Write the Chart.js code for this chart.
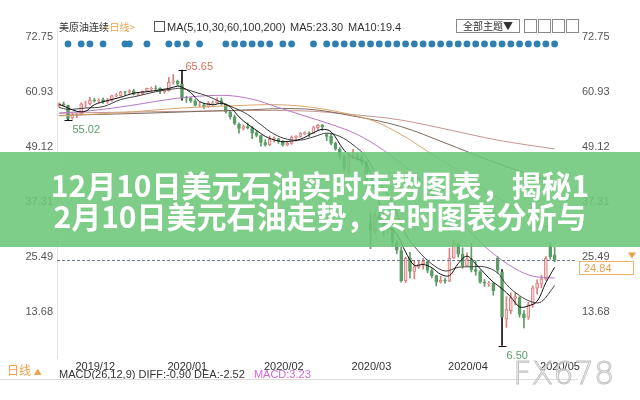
<!DOCTYPE html>
<html>
<head>
<meta charset="utf-8">
<script src="https://cdn.jsdelivr.net/npm/chart.js@4.4.1/dist/chart.umd.min.js"></script>
<style>
  body { margin: 0; background: #fff; }
  #box { position: relative; width: 640px; height: 400px; overflow: hidden; font-family: "Liberation Sans", Arial, sans-serif; }
  #c { position: absolute; left: 0; top: 0; }
  .t { position: absolute; white-space: nowrap; font-size: 11px; line-height: 13px; color: #333; }
  .cn { font-family: "Noto Sans CJK SC", sans-serif; }
  #banner { position: absolute; left: 0; top: 152px; width: 640px; height: 95px; box-sizing: border-box; padding-top: 17px;
            background: rgba(108, 198, 120, 0.88); color: #fff; text-align: center;
            font-family: "Noto Sans CJK SC", sans-serif; font-weight: 700; font-size: 30px; line-height: 31px; }
  .btn { position: absolute; top: 19px; height: 12px; border: 1px solid #888; background: #fff; }
  #wm { position: absolute; left: 513px; top: 354px; font-size: 32px; font-family: "DejaVu Sans", sans-serif; font-weight: 300;
        color: rgba(255,255,255,0.2); -webkit-text-stroke: 1px #c4c4c4; }
</style>
</head>
<body>
<div id="box">
  <canvas id="c" width="640" height="400"></canvas>

  <div class="t cn" style="left:59px;top:20px;font-size:10px;">美原油连续</div>
  <div class="t cn" style="left:104px;top:20px;font-size:10px;color:#f0a24a;">&lt;日线&gt;</div>
  <div class="t" style="left:154px;top:21px;width:9px;height:9px;border:1px solid #555;"></div>
  <div class="t" style="left:167px;top:21px;">MA(5,10,30,60,100,200)</div>
  <div class="t" style="left:290px;top:21px;">MA5:23.30</div>
  <div class="t" style="left:348px;top:21px;">MA10:19.4</div>
  <div class="btn t cn" style="left:456px;width:62px;font-size:10px;line-height:12px;text-align:center;">全部主题▼</div>
  <div class="btn" style="left:524px;width:11px;"></div>
  <div class="btn" style="left:538px;width:11px;"></div>
  <div class="btn" style="left:552px;width:11px;"></div>
  <div class="btn" style="left:566px;width:11px;"></div>

  <div id="banner">12月10日美元石油实时走势图表，揭秘1<br>2月10日美元石油走势，实时图表分析与</div>

  <div class="t cn" style="left:7px;top:363px;font-size:12px;color:#f0a24a;">日线 <span style="font-size:8px;">▲</span></div>
  <div class="t" style="left:59px;top:368px;">MACD(26,12,9) DIFF:-0.90 DEA:-2.52 <span style="color:#d36ad3;margin-left:6px;">MACD:3.23</span></div>
  <div style="position:absolute;left:0;top:379px;width:578px;height:1px;background:#dcdcdc;"></div>
  <div id="wm">FX678</div>
</div>

<script>
// 美原油连续 daily bars, late Nov 2019 - early May 2020
const opens = [58.0, 58.4, 58.0, 55.3, 56.0, 56.2, 58.3, 58.4, 59.2, 59.0,
  59.3, 58.8, 59.2, 60.1, 60.2, 61.0, 60.9, 61.2, 60.4, 60.5,
  61.1, 61.6, 61.8, 61.7, 61.0, 61.2, 63.1, 63.3, 62.7, 59.8,
  59.6, 59.0, 58.1, 58.2, 57.8, 58.4, 58.6, 59.1, 58.3, 56.7,
  55.6, 54.0, 53.1, 53.5, 53.3, 52.2, 51.6, 50.1, 49.6, 50.8,
  50.9, 50.3, 49.6, 49.9, 51.2, 51.4, 52.0, 52.1, 52.1, 53.3,
  53.8, 51.8, 51.4, 49.9, 48.7, 47.1, 44.8, 46.8, 47.2, 46.8,
  45.9, 32.9, 31.1, 34.4, 33.0, 31.5, 31.7, 28.7, 26.9, 20.4,
  25.2, 22.4, 23.4, 24.0, 24.5, 22.6, 21.5, 20.1, 20.5, 20.3,
  25.3, 28.3, 26.1, 23.6, 25.1, 22.8, 22.4, 20.1, 19.7, 19.9,
  25.2, 22.3, 12.2, 14.0, 16.6, 16.8, 13.3, 12.6, 15.2, 18.8,
  19.7, 20.8, 27.8, 26.0];
const highs = [58.6, 58.8, 58.1, 56.4, 56.4, 58.6, 59.0, 59.8, 59.6, 59.5,
  59.7, 59.6, 60.3, 60.6, 61.1, 61.1, 61.4, 61.5, 60.8, 61.2,
  61.8, 62.0, 62.3, 61.9, 61.6, 64.1, 64.7, 63.5, 65.65, 60.0,
  59.8, 59.3, 58.7, 58.5, 58.9, 59.0, 59.7, 59.7, 58.4, 57.0,
  56.0, 54.3, 53.9, 54.3, 53.5, 52.7, 51.7, 50.7, 51.5, 51.3,
  51.0, 50.5, 50.3, 51.5, 51.6, 52.2, 52.4, 52.4, 53.6, 54.0,
  54.0, 52.0, 51.9, 50.2, 49.0, 47.3, 47.4, 48.6, 47.8, 47.4,
  46.0, 34.9, 35.0, 35.1, 33.4, 33.3, 31.7, 29.0, 27.6, 25.5,
  26.5, 24.8, 24.7, 25.2, 24.9, 23.0, 21.6, 21.4, 21.0, 27.4,
  29.1, 28.5, 27.5, 26.4, 28.4, 24.7, 22.6, 20.7, 20.3, 20.0,
  25.6, 22.8, 17.0, 17.8, 17.8, 17.0, 14.0, 15.8, 19.3, 20.6,
  21.6, 25.6, 28.6, 27.6];
const lows = [57.6, 57.9, 55.02, 55.1, 55.4, 56.0, 57.7, 58.1, 58.8, 58.6,
  58.5, 58.5, 58.9, 59.9, 60.0, 60.3, 60.6, 60.3, 60.2, 60.4,
  61.0, 61.2, 61.4, 60.6, 60.6, 61.1, 62.6, 62.3, 59.2, 58.7,
  58.7, 57.9, 57.7, 57.4, 57.6, 58.1, 58.5, 58.1, 56.4, 55.1,
  53.9, 52.1, 52.8, 53.0, 50.9, 51.3, 49.3, 49.3, 49.4, 50.2,
  49.9, 49.3, 49.4, 49.7, 50.4, 51.2, 51.8, 51.3, 52.0, 52.8,
  52.7, 50.5, 49.6, 48.4, 46.5, 44.0, 43.5, 46.6, 46.2, 45.3,
  41.1, 27.3, 30.5, 32.5, 30.0, 30.6, 28.0, 26.2, 20.1, 20.0,
  21.0, 20.8, 23.0, 22.9, 22.1, 21.0, 19.3, 19.9, 19.9, 20.2,
  25.2, 25.5, 23.1, 23.6, 22.3, 21.6, 19.9, 19.2, 19.2, 17.3,
  22.0, 6.50, 10.4, 13.3, 15.2, 12.6, 10.3, 12.1, 14.7, 17.6,
  18.9, 20.5, 25.0, 24.5];
const closes = [58.4, 58.1, 55.2, 56.0, 56.1, 58.4, 58.4, 59.2, 59.0, 59.2,
  58.8, 59.2, 60.1, 60.2, 60.9, 60.9, 61.2, 60.4, 60.5, 61.1,
  61.7, 61.7, 61.7, 61.1, 61.2, 63.0, 63.3, 62.7, 59.6, 59.6,
  59.0, 58.1, 58.2, 57.8, 58.5, 58.5, 59.1, 58.4, 56.7, 55.6,
  54.2, 53.1, 53.5, 53.3, 52.1, 51.6, 50.1, 49.6, 50.8, 51.0,
  50.3, 49.6, 49.9, 51.2, 51.4, 52.1, 52.2, 52.0, 53.3, 53.8,
  53.4, 51.4, 49.9, 48.7, 47.1, 44.8, 46.7, 47.2, 46.8, 45.9,
  41.3, 31.1, 34.4, 33.0, 31.5, 31.7, 28.7, 27.0, 20.4, 25.2,
  22.4, 23.4, 24.0, 24.5, 22.6, 21.5, 20.1, 20.5, 20.3, 25.3,
  28.3, 26.1, 23.6, 25.1, 22.8, 22.4, 20.1, 19.9, 19.9, 18.3,
  22.7, 12.6, 14.2, 16.8, 17.0, 13.2, 12.5, 15.3, 18.9, 19.9,
  20.8, 25.2, 25.6, 24.84];

// moving averages: [bar index, value]
const ma5 = [[0, 58.3], [2, 57.5], [4, 56.8], [6, 56.8], [8, 58.2], [11, 59.1], [14, 59.8], [17, 60.7], [20, 61.0],
  [23, 61.4], [25, 61.7], [27, 62.2], [28, 62.0], [30, 60.8], [32, 58.9], [35, 58.2], [37, 58.5], [39, 57.7],
  [41, 55.6], [43, 54.0], [45, 52.7], [47, 51.4], [50, 50.4], [52, 50.3], [55, 50.8], [58, 52.2], [60, 52.9],
  [62, 52.4], [65, 48.4], [67, 46.9], [70, 45.6], [72, 39.9], [75, 32.3], [77, 30.4], [79, 26.6], [81, 23.7],
  [83, 23.9], [85, 23.2], [87, 21.8], [89, 21.5], [91, 24.1], [93, 25.7], [95, 24.0], [97, 22.0], [99, 20.1],
  [101, 18.7], [103, 16.9], [105, 14.8], [107, 15.0], [109, 16.0], [111, 20.0], [113, 23.3]];
const ma10 = [[0, 57.6], [2, 57.2], [6, 57.5], [10, 57.8], [14, 59.3], [18, 60.1], [22, 61.0], [26, 61.6], [28, 61.7],
  [31, 60.9], [34, 60.0], [37, 58.7], [40, 57.5], [43, 56.1], [46, 53.9], [49, 51.9], [52, 50.8], [55, 50.6],
  [58, 51.3], [61, 52.1], [64, 51.4], [67, 49.6], [70, 47.0], [73, 41.8], [76, 37.2], [79, 30.4], [82, 26.7],
  [85, 24.0], [88, 22.5], [91, 23.3], [94, 23.4], [97, 23.4], [100, 22.1], [102, 19.6], [105, 17.2], [108, 15.8],
  [110, 15.9], [113, 19.4]];
const ma30 = [[0, 56.4], [8, 57.0], [16, 58.0], [24, 59.2], [30, 59.9], [38, 60.2], [44, 59.4], [50, 57.6], [56, 55.8],
  [62, 54.0], [68, 51.8], [74, 48.4], [80, 44.0], [86, 38.6], [92, 32.6], [98, 27.0], [104, 23.0], [108, 21.4], [113, 21.0]];
const ma60 = [[0, 55.8], [14, 56.5], [28, 57.5], [40, 58.0], [50, 58.2], [58, 57.6], [66, 56.2], [72, 54.6], [78, 51.8],
  [84, 48.2], [90, 44.6], [96, 40.6], [104, 36.0], [113, 31.0]];
const ma100 = [[0, 55.9], [20, 56.4], [40, 57.0], [56, 57.3], [68, 55.6], [78, 53.5], [88, 50.0], [98, 46.3], [106, 43.6], [113, 41.6]];
const ma200 = [[0, 56.4], [30, 56.8], [55, 56.9], [68, 56.0], [78, 54.9], [89, 52.8], [100, 50.6], [113, 48.7]];

const newsDays = [2, 5, 7, 10, 15, 16, 20, 25, 27, 29, 32, 38, 40, 42, 44, 46, 48, 51, 53, 58, 61, 63, 65, 67, 69, 71,
  73, 75, 77, 79, 81, 83, 85, 87, 89, 91, 93, 95, 97, 99, 101, 103, 105, 107, 109, 111, 113];
const priceTicks = [72.75, 60.93, 49.12, 37.31, 25.49, 13.68];
const monthTicks = [3, 24, 46, 66, 88, 109];
const monthLabels = ['2019/12', '2020/01', '2020/02', '2020/03', '2020/04', '2020/05'];
const markedHighs = [28];
const markedLows = [2, 101];

const DOT_Y = 71.25;
const UP = '#d98080', UP_FILL = '#f6d2d2', DOWN = '#5b9d66';
const marked = new Set([...markedHighs, ...markedLows]);
const isUp = i => closes[i] >= opens[i];

Chart.defaults.font.family = '"Liberation Sans", Arial, sans-serif';
Chart.defaults.font.size = 11;

const maLine = (pts, color) => ({
  type: 'line', data: pts.map(([i, v]) => ({ x: i, y: v })), borderColor: color, borderWidth: 1,
  pointRadius: 0, tension: 0.35, fill: false
});

const overlay = {
  id: 'overlay',
  afterDatasetsDraw(chart) {
    const { ctx, chartArea: a, scales: { x, y } } = chart;
    const last = closes[closes.length - 1];
    const py = Math.round(y.getPixelForValue(last)) + 0.5;
    ctx.save();
    ctx.strokeStyle = '#6c7a88';
    ctx.lineWidth = 1;
    ctx.setLineDash([3, 2]);
    ctx.beginPath(); ctx.moveTo(a.left, py); ctx.lineTo(a.right, py); ctx.stroke();
    ctx.setLineDash([]);
    // last price box
    ctx.strokeStyle = '#ebb46c';
    ctx.strokeRect(a.right + 2.5, py + 1, 54, 13);
    ctx.fillStyle = '#e6a04e';
    ctx.font = '11px "Liberation Sans", Arial';
    ctx.textBaseline = 'middle';
    ctx.fillText(last.toFixed(2), a.right + 7, py + 8);
    ctx.beginPath();
    ctx.moveTo(a.right + 55, py - 2); ctx.lineTo(a.right + 51, py - 8); ctx.lineTo(a.right + 59, py - 8); ctx.closePath();
    ctx.fill();
    // extreme marks
    ctx.strokeStyle = '#111';
    ctx.textBaseline = 'alphabetic';
    markedHighs.forEach(i => {
      const px = Math.round(x.getPixelForValue(i)) + 0.5, hy = Math.round(y.getPixelForValue(highs[i])) + 0.5;
      ctx.beginPath(); ctx.moveTo(px - 4, hy); ctx.lineTo(px + 4, hy); ctx.stroke();
      ctx.fillStyle = '#d9705f';
      ctx.fillText(highs[i].toFixed(2), px + 3, hy - 1);
    });
    markedLows.forEach(i => {
      const px = Math.round(x.getPixelForValue(i)) + 0.5, ly = Math.round(y.getPixelForValue(lows[i])) + 0.5;
      ctx.beginPath(); ctx.moveTo(px - 4, ly); ctx.lineTo(px + 4, ly); ctx.stroke();
      ctx.fillStyle = '#5a9b6a';
      ctx.fillText(lows[i].toFixed(2), px + 4, ly + 12);
    });
    ctx.restore();
  }
};

const priceAxis = (pos, width, pad) => ({
  position: pos, min: 3.82, max: 74.25,
  afterFit: s => { s.width = width; },
  afterBuildTicks: s => { s.ticks = priceTicks.map(v => ({ value: v })); },
  ticks: { callback: v => v.toFixed(2), color: '#555', padding: pad },
  grid: { display: false, drawTicks: false },
  border: { display: pos === 'left', color: '#e2e2e2' }
});

new Chart(document.getElementById('c'), {
  data: {
    datasets: [
      maLine(ma5, '#111111'),
      maLine(ma10, '#404040'),
      maLine(ma30, '#b776c6'),
      maLine(ma60, '#d9a56e'),
      maLine(ma100, '#7d6a5e'),
      maLine(ma200, '#c39590'),
      {
        type: 'bar', grouped: false, barThickness: 3, borderWidth: 1, borderSkipped: false,
        data: opens.map((o, i) => ({ x: i, y: [o, closes[i]] })),
        backgroundColor: opens.map((o, i) => isUp(i) ? UP_FILL : DOWN),
        borderColor: opens.map((o, i) => isUp(i) ? UP : DOWN)
      },
      {
        type: 'bar', grouped: false, barThickness: 1,
        data: lows.map((l, i) => ({ x: i, y: [l, highs[i]] })),
        backgroundColor: lows.map((l, i) => marked.has(i) ? '#111' : (isUp(i) ? UP : DOWN))
      },
      {
        type: 'line', showLine: false, data: newsDays.map(i => ({ x: i, y: DOT_Y })),
        pointRadius: 3.4, pointBackgroundColor: '#2f7fb2', pointBorderWidth: 0
      }
    ]
  },
  options: {
    responsive: false,
    animation: false,
    layout: { padding: { top: 30, left: 0, right: 0, bottom: 0 } },
    plugins: { legend: { display: false }, tooltip: { enabled: false } },
    scales: {
      x: {
        type: 'linear', min: -0.513, max: 118.1, offset: false,
        afterFit: s => { s.height = 42; },
        afterBuildTicks: s => { s.ticks = monthTicks.map(v => ({ value: v })); },
        ticks: { callback: (v, i) => monthLabels[i], align: 'start', labelOffset: 3, padding: 2, color: '#333', maxRotation: 0, autoSkip: false },
        grid: { display: false, drawTicks: false, offset: false },
        border: { display: false }
      },
      y: priceAxis('left', 57, 4),
      y2: priceAxis('right', 63, 5)
    }
  },
  plugins: [overlay]
});
</script>
</body>
</html>
